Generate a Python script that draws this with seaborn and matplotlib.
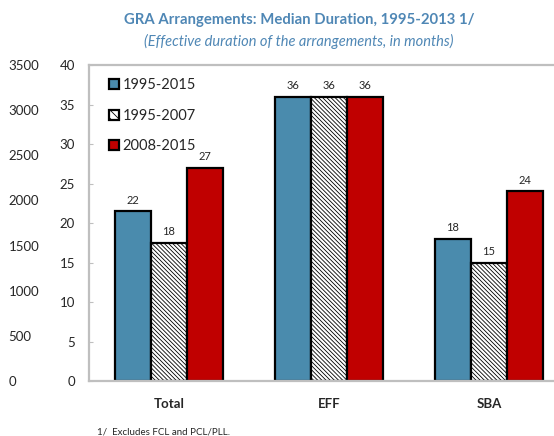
import pandas as pd
import matplotlib
matplotlib.use('Agg')
import matplotlib.pyplot as plt
import seaborn as sns
from matplotlib.patches import Patch

# ── DATA ──
categories = ['Total', 'EFF', 'SBA']
periods = ['1995-2015', '1995-2007', '2008-2015']
dur_all = [21.5, 36, 18]
dur_early = [17.5, 36, 15]
dur_late = [27, 36, 24]
left_ticks = [0, 500, 1000, 1500, 2000, 2500, 3000, 3500]
inner_ticks = [0, 5, 10, 15, 20, 25, 30, 35, 40]

C = {'blue': '#4A8BAD', 'red': '#C00000', 'title': '#4F87B5', 'grid': '#BFBFBF'}
colors = [C['blue'], 'white', C['red']]

df = pd.DataFrame({
    'category': categories * 3,
    'period': [p for p in periods for _ in categories],
    'months': dur_all + dur_early + dur_late,
})

sns.set_style('white')
plt.rcParams['font.family'] = ['Lato', 'DejaVu Sans']
plt.rcParams['hatch.linewidth'] = 0.6

fig = plt.figure(figsize=(5.54, 4.36), dpi=100)
ax = fig.add_axes([0.1606, 0.1261, 0.8664, 0.7248])

sns.barplot(data=df, x='category', y='months', hue='period', hue_order=periods,
            palette=colors, width=0.675, ax=ax, edgecolor='black', linewidth=1.6,
            legend=False, saturation=1)

for bar in ax.containers[1]:
    bar.set_hatch('\\' * 8)

for cont in ax.containers:
    ax.bar_label(cont, fmt='{:.0f}', padding=4, fontsize=8)

ax.set_xlim(-0.5, 2.5)
ax.set_ylim(0, 40)
ax.set_yticks(inner_ticks)
ax.set_xticks(range(len(categories)))
ax.set_xticklabels(categories, fontweight='bold', fontsize=9.5)
ax.set_xlabel('')
ax.set_ylabel('')
ax.tick_params(axis='y', direction='in', length=3, color=C['grid'], labelsize=9.5, pad=10)
ax.tick_params(axis='x', length=0, pad=12)
ax.set_xticks([0.5, 1.5], minor=True)
ax.tick_params(axis='x', which='minor', direction='in', length=4, color=C['grid'])

for s in ['left', 'top', 'bottom']:
    ax.spines[s].set_color(C['grid'])
    ax.spines[s].set_linewidth(1.6)
ax.spines['right'].set_visible(False)

# outer left scale
ax2 = ax.twinx()
ax2.set_ylim(0, 3500)
ax2.set_yticks(left_ticks)
ax2.yaxis.set_ticks_position('left')
ax2.tick_params(axis='y', length=0, labelsize=9.5, pad=58)
for lab in ax2.get_yticklabels():
    lab.set_horizontalalignment('left')
for s in ax2.spines.values():
    s.set_visible(False)

handles = [Patch(facecolor=c, edgecolor='black', linewidth=1.6,
                 hatch='\\\\\\\\' if i == 1 else None) for i, c in enumerate(colors)]
ax.legend(handles, periods, loc='upper left', bbox_to_anchor=(0.02, 0.99), frameon=False,
          fontsize=10.5, handlelength=0.7, handleheight=0.7, handletextpad=0.25,
          labelspacing=1.12, borderaxespad=0.3)

fig.text(0.54, 0.955, 'GRA Arrangements: Median Duration, 1995-2013 1/', ha='center',
         va='center', fontsize=10.7, fontweight='bold', color=C['title'])
fig.text(0.54, 0.905, '(Effective duration of the arrangements, in months)', ha='center',
         va='center', fontsize=10.5, style='italic', color=C['title'])
fig.text(0.175, 0.0, '1/  Excludes FCL and PCL/PLL.', ha='left', va='bottom', fontsize=7)

fig.savefig('out.png', dpi=100, facecolor='white')
